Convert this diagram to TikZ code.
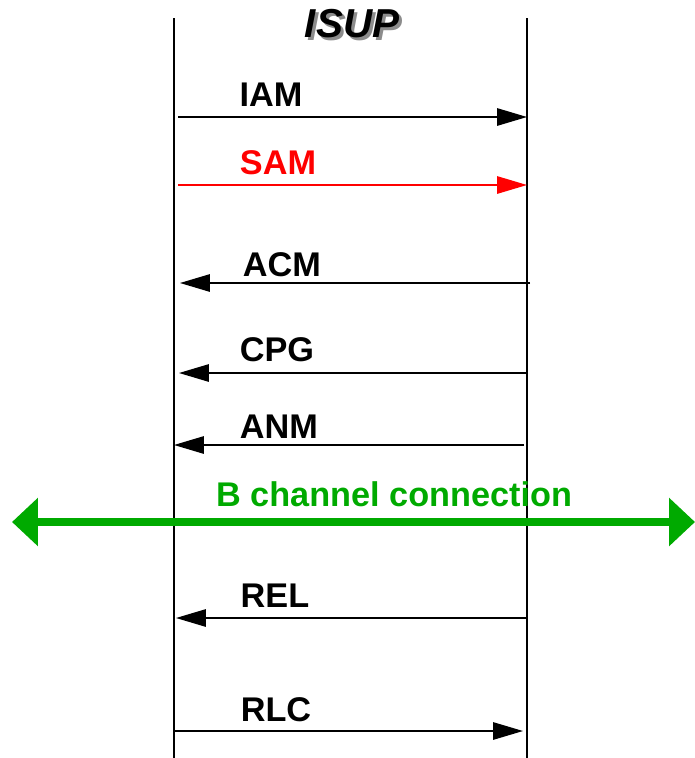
\documentclass[tikz,border=0pt]{standalone}
\usepackage{fontspec}
\setmainfont{Liberation Sans}
\usetikzlibrary{arrows.meta,calc}
\definecolor{chanGreen}{RGB}{0,170,0}
\definecolor{samRed}{RGB}{255,0,0}
\tikzset{msgFig/.style={x=0.02cm,y=-0.02cm,line width=0.8pt},
         msg/.style={-{Triangle[length=0.6cm,width=0.35cm]},line width=0.8pt},
         msgLabel/.style={font=\fontsize{19.5}{22}\selectfont\bfseries,inner sep=0pt},
         lifeline/.style={line width=0.9pt}}

\begin{document}
\begin{tikzpicture}[msgFig]
    \useasboundingbox (0,0) rectangle (695,758);
    %LIFELINES
    \coordinate (L0) at (174,18);  \coordinate (L1) at (174,758);
    \coordinate (R0) at (527,18);  \coordinate (R1) at (527,758);
    \draw[lifeline] (L0) -- (L1);
    \draw[lifeline] (R0) -- (R1);
    %TITLE
    \node[font=\fontsize{23}{26}\selectfont\bfseries\itshape,text=black!45,inner sep=0pt] (titleS) at (355,27) {ISUP};
    \node[font=\fontsize{23}{26}\selectfont\bfseries\itshape,inner sep=0pt] (title) at (352,24) {ISUP};

    %MESSAGES
    \coordinate (iamA) at (178,117); \coordinate (iamB) at (527,117);
    \coordinate (samA) at (178,185); \coordinate (samB) at (527,185);
    \coordinate (acmA) at (530,283); \coordinate (acmB) at (180,283);
    \coordinate (cpgA) at (528,373); \coordinate (cpgB) at (179,373);
    \coordinate (anmA) at (524,445); \coordinate (anmB) at (174,445);
    \coordinate (relA) at (526,618); \coordinate (relB) at (176,618);
    \coordinate (rlcA) at (175,731); \coordinate (rlcB) at (523,731);

    \node[msgLabel] (iam) at (271,95)  {IAM};
    \node[msgLabel,text=samRed] (sam) at (278,163) {SAM};
    \node[msgLabel] (acm) at (282,265) {ACM};
    \node[msgLabel] (cpg) at (277,350) {CPG};
    \node[msgLabel] (anm) at (279,427) {ANM};
    \node[msgLabel] (rel) at (275,596) {REL};
    \node[msgLabel] (rlc) at (276,710) {RLC};

    \draw[msg] (iamA) -- (iamB);
    \draw[msg,samRed] (samA) -- (samB);
    \draw[msg] (acmA) -- (acmB);
    \draw[msg] (cpgA) -- (cpgB);
    \draw[msg] (anmA) -- (anmB);
    \draw[msg] (relA) -- (relB);
    \draw[msg] (rlcA) -- (rlcB);

    %B CHANNEL
    \coordinate (chA) at (12,522); \coordinate (chB) at (695,522);
    \draw[chanGreen,line width=5pt,{Triangle[length=0.52cm,width=0.94cm]}-{Triangle[length=0.52cm,width=0.94cm]}] (chA) -- (chB);
    \node[msgLabel,text=chanGreen] (chan) at (394,494) {B channel connection};
\end{tikzpicture}
\end{document}
